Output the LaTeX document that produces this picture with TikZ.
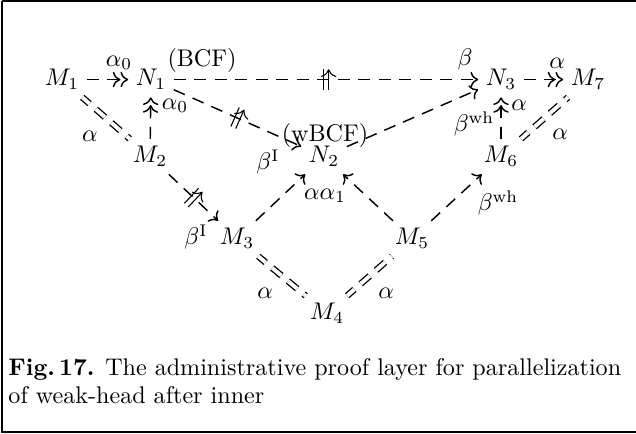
\documentclass[tikz,border=0pt]{standalone}
\usetikzlibrary{decorations.markings,arrows.meta}
\begin{document}
\begin{tikzpicture}[x=0.415pt,y=-0.415pt,
  >={Computer Modern Rightarrow[length=3.2pt,width=6.4pt]},
  obj/.style={anchor=base,inner sep=3pt},
  lab/.style={inner sep=0pt},
  dl/.style={dash pattern=on 5pt off 3.5pt,line width=0.6pt},
  sar/.style={dl,->},
  dar/.style={dl,->>},
  eqd/.style={dash pattern=on 5pt off 3.5pt,dash phase=1pt,double,double distance=1.6pt,line width=0.55pt},
  strike/.style={postaction={decorate},decoration={markings,mark=at position 0.5 with {\draw[solid,line width=0.45pt] (-1.1pt,-4.3pt) -- (-1.1pt,4.3pt) (1.1pt,-4.3pt) -- (1.1pt,4.3pt);}}}
]
\useasboundingbox (0,0) rectangle (636,434);
\draw[line width=1pt] (2,1) -- (700,1) (2,1) -- (2,432) -- (700,432);
% objects
\node[obj] (M1) at (62,86) {$M_1$};
\node[obj] (N1) at (151,86) {$N_1$};
\node[obj] (N3) at (501,86) {$N_3$};
\node[obj] (M7) at (588,86) {$M_7$};
\node[obj] (M2) at (150,163) {$M_2$};
\node[obj] (N2) at (324,163) {$N_2$};
\node[obj] (M6) at (501,163) {$M_6$};
\node[obj] (M3) at (237,245) {$M_3$};
\node[obj] (M5) at (412,245) {$M_5$};
\node[obj] (M4) at (327,320) {$M_4$};
% connectors
\draw[dar] (M1) -- (N1);
\draw[dar] (M2) -- (N1);
\draw[sar,strike] (N1) -- (N3);
\draw[sar,strike] (N1) -- (N2);
\draw[sar,strike] (M2) -- (M3);
\draw[sar] (M3) -- (N2);
\draw[sar] (M5) -- (N2);
\draw[sar] (N2) -- (N3);
\draw[sar] (M5) -- (M6);
\draw[dar] (M6) -- (N3);
\draw[dar] (N3) -- (M7);
\draw[eqd] (M1) -- (M2);
\draw[eqd] (M3) -- (M4);
\draw[eqd] (M4) -- (M5);
\draw[eqd] (M6) -- (M7);
% labels
\node[lab] (l1) at (119,63) {$\alpha_0$};
\node[lab] (l2) at (202,60) {(BCF)};
\node[lab] (l3) at (465,59) {$\beta$};
\node[lab] (l4) at (557,63) {$\alpha$};
\node[lab] (l5) at (175,106) {$\alpha_0$};
\node[lab] (l6) at (90,136) {$\alpha$};
\node[lab] (l7) at (325,135) {(wBCF)};
\node[lab] (l8) at (268,162) {$\beta^{\mathrm{I}}$};
\node[lab] (l9) at (519,105) {$\alpha$};
\node[lab] (l10) at (474,124) {$\beta^{\mathrm{wh}}$};
\node[lab] (l11) at (560,134) {$\alpha$};
\node[lab] (l12) at (325,196) {$\alpha\alpha_1$};
\node[lab] (l13) at (196,237) {$\beta^{\mathrm{I}}$};
\node[lab] (l14) at (498,203) {$\beta^{\mathrm{wh}}$};
\node[lab] (l15) at (265,293) {$\alpha$};
\node[lab] (l16) at (386,293) {$\alpha$};
% caption
\node[anchor=base west,inner sep=0pt,align=left] (cap) at (8,404) {\textbf{Fig.\,17.} The administrative proof layer for parallelization\\of weak-head after inner};
\end{tikzpicture}
\end{document}
